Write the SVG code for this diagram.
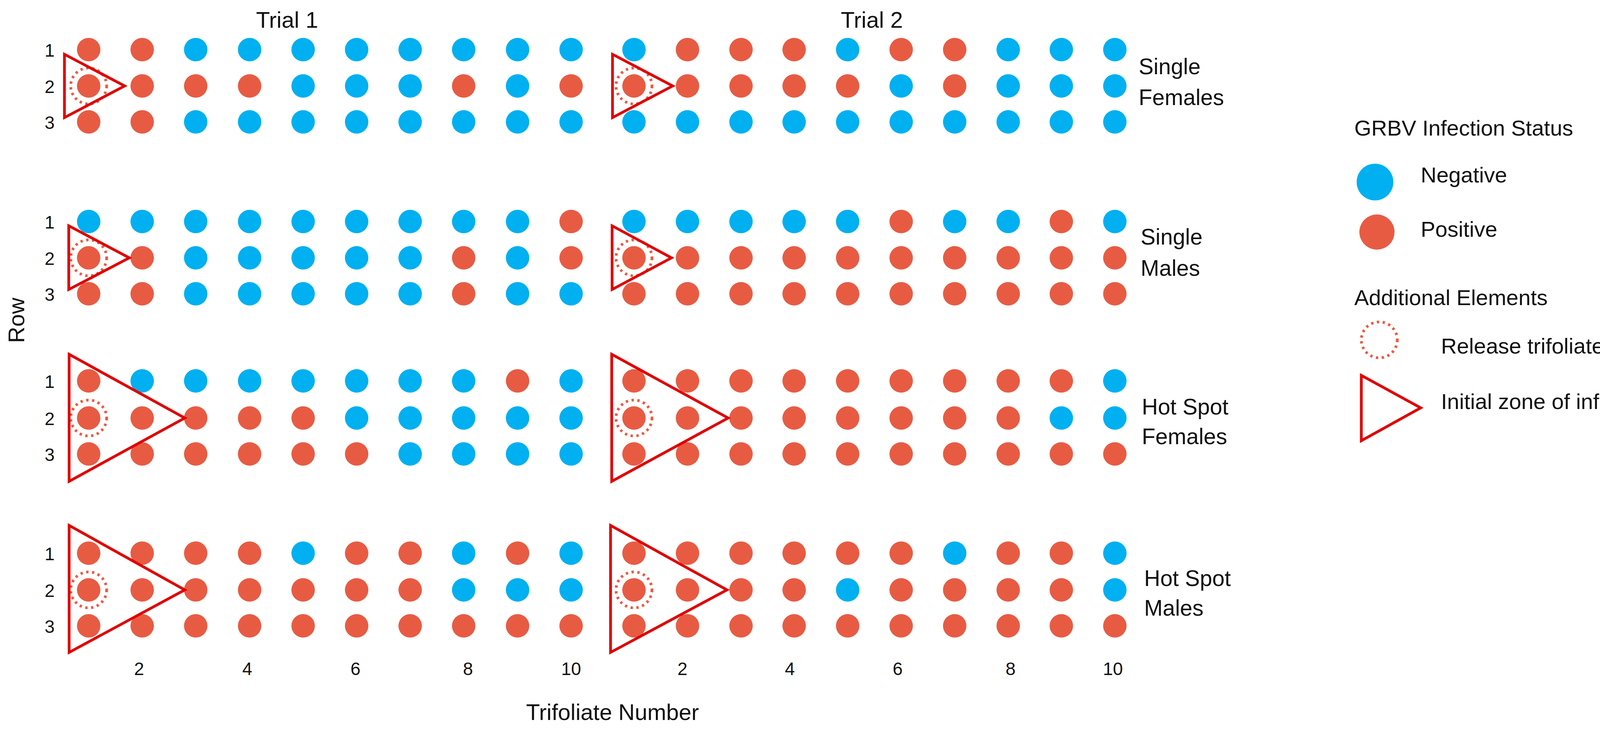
<svg xmlns="http://www.w3.org/2000/svg" width="4319" height="1884" viewBox="0 0 4319 1884">
<style>
text{font-family:"Liberation Sans",Arial,sans-serif;fill:#111}
.n{fill:#00B0F0}.p{fill:#E85B43}
.tri{fill:none;stroke:#E00000;stroke-width:7}
.rel{fill:none;stroke:#E85B43;stroke-width:7;stroke-dasharray:6 9}
.rn{font-size:46px;text-anchor:middle}
.ax{font-size:46px;text-anchor:middle}
.lab{font-size:57px}
.leg{font-size:56px}
</style>
<rect width="4319" height="1884" fill="#fff"/>
<text x="735" y="71" font-size="58" text-anchor="middle">Trial 1</text>
<text x="2232" y="71" font-size="58" text-anchor="middle">Trial 2</text>
<g id="g1">
<g class="rn"><text x="127" y="145">1</text><text x="127" y="238">2</text><text x="127" y="330">3</text></g>
<g class="p"><circle cx="227" cy="127" r="30"/><circle cx="364" cy="127" r="30"/>
<circle cx="227" cy="220" r="30"/><circle cx="364" cy="220" r="30"/><circle cx="501" cy="220" r="30"/><circle cx="639" cy="220" r="30"/><circle cx="1187" cy="220" r="30"/><circle cx="1462" cy="220" r="30"/>
<circle cx="227" cy="312" r="30"/><circle cx="364" cy="312" r="30"/>
<circle cx="1760" cy="127" r="30"/><circle cx="1897" cy="127" r="30"/><circle cx="2033" cy="127" r="30"/><circle cx="2307" cy="127" r="30"/><circle cx="2444" cy="127" r="30"/>
<circle cx="1623" cy="220" r="30"/><circle cx="1760" cy="220" r="30"/><circle cx="1897" cy="220" r="30"/><circle cx="2033" cy="220" r="30"/><circle cx="2170" cy="220" r="30"/><circle cx="2444" cy="220" r="30"/></g>
<g class="n"><circle cx="501" cy="127" r="30"/><circle cx="639" cy="127" r="30"/><circle cx="776" cy="127" r="30"/><circle cx="913" cy="127" r="30"/><circle cx="1050" cy="127" r="30"/><circle cx="1187" cy="127" r="30"/><circle cx="1325" cy="127" r="30"/><circle cx="1462" cy="127" r="30"/>
<circle cx="776" cy="220" r="30"/><circle cx="913" cy="220" r="30"/><circle cx="1050" cy="220" r="30"/><circle cx="1325" cy="220" r="30"/>
<circle cx="501" cy="312" r="30"/><circle cx="639" cy="312" r="30"/><circle cx="776" cy="312" r="30"/><circle cx="913" cy="312" r="30"/><circle cx="1050" cy="312" r="30"/><circle cx="1187" cy="312" r="30"/><circle cx="1325" cy="312" r="30"/><circle cx="1462" cy="312" r="30"/>
<circle cx="1623" cy="127" r="30"/><circle cx="2170" cy="127" r="30"/><circle cx="2581" cy="127" r="30"/><circle cx="2717" cy="127" r="30"/><circle cx="2854" cy="127" r="30"/>
<circle cx="2307" cy="220" r="30"/><circle cx="2581" cy="220" r="30"/><circle cx="2717" cy="220" r="30"/><circle cx="2854" cy="220" r="30"/>
<circle cx="1623" cy="312" r="30"/><circle cx="1760" cy="312" r="30"/><circle cx="1897" cy="312" r="30"/><circle cx="2033" cy="312" r="30"/><circle cx="2170" cy="312" r="30"/><circle cx="2307" cy="312" r="30"/><circle cx="2444" cy="312" r="30"/><circle cx="2581" cy="312" r="30"/><circle cx="2717" cy="312" r="30"/><circle cx="2854" cy="312" r="30"/></g>
<circle class="rel" cx="227" cy="220" r="46"/><circle class="rel" cx="1623" cy="220" r="46"/>
<polygon class="tri" points="165,139 165,301 319,220"/><polygon class="tri" points="1568,139 1568,301 1722,220"/>
<text class="lab" x="2915" y="190">Single</text><text class="lab" x="2915" y="269">Females</text>
</g>
<g id="g2">
<g class="rn"><text x="127" y="585">1</text><text x="127" y="678">2</text><text x="127" y="770">3</text></g>
<g class="p"><circle cx="1462" cy="567" r="30"/>
<circle cx="227" cy="660" r="30"/><circle cx="364" cy="660" r="30"/><circle cx="1187" cy="660" r="30"/><circle cx="1462" cy="660" r="30"/>
<circle cx="227" cy="752" r="30"/><circle cx="364" cy="752" r="30"/><circle cx="1187" cy="752" r="30"/>
<circle cx="2307" cy="567" r="30"/><circle cx="2717" cy="567" r="30"/>
<circle cx="1623" cy="660" r="30"/><circle cx="1760" cy="660" r="30"/><circle cx="1897" cy="660" r="30"/><circle cx="2033" cy="660" r="30"/><circle cx="2170" cy="660" r="30"/><circle cx="2307" cy="660" r="30"/><circle cx="2444" cy="660" r="30"/><circle cx="2581" cy="660" r="30"/><circle cx="2717" cy="660" r="30"/><circle cx="2854" cy="660" r="30"/>
<circle cx="1623" cy="752" r="30"/><circle cx="1760" cy="752" r="30"/><circle cx="1897" cy="752" r="30"/><circle cx="2033" cy="752" r="30"/><circle cx="2170" cy="752" r="30"/><circle cx="2307" cy="752" r="30"/><circle cx="2444" cy="752" r="30"/><circle cx="2581" cy="752" r="30"/><circle cx="2717" cy="752" r="30"/><circle cx="2854" cy="752" r="30"/></g>
<g class="n"><circle cx="227" cy="567" r="30"/><circle cx="364" cy="567" r="30"/><circle cx="501" cy="567" r="30"/><circle cx="639" cy="567" r="30"/><circle cx="776" cy="567" r="30"/><circle cx="913" cy="567" r="30"/><circle cx="1050" cy="567" r="30"/><circle cx="1187" cy="567" r="30"/><circle cx="1325" cy="567" r="30"/>
<circle cx="501" cy="660" r="30"/><circle cx="639" cy="660" r="30"/><circle cx="776" cy="660" r="30"/><circle cx="913" cy="660" r="30"/><circle cx="1050" cy="660" r="30"/><circle cx="1325" cy="660" r="30"/>
<circle cx="501" cy="752" r="30"/><circle cx="639" cy="752" r="30"/><circle cx="776" cy="752" r="30"/><circle cx="913" cy="752" r="30"/><circle cx="1050" cy="752" r="30"/><circle cx="1325" cy="752" r="30"/><circle cx="1462" cy="752" r="30"/>
<circle cx="1623" cy="567" r="30"/><circle cx="1760" cy="567" r="30"/><circle cx="1897" cy="567" r="30"/><circle cx="2033" cy="567" r="30"/><circle cx="2170" cy="567" r="30"/><circle cx="2444" cy="567" r="30"/><circle cx="2581" cy="567" r="30"/><circle cx="2854" cy="567" r="30"/></g>
<circle class="rel" cx="227" cy="660" r="46"/><circle class="rel" cx="1623" cy="660" r="46"/>
<polygon class="tri" points="176,578 176,741 331,660"/><polygon class="tri" points="1567,578 1567,741 1719,660"/>
<text class="lab" x="2920" y="626">Single</text><text class="lab" x="2920" y="706">Males</text>
</g>
<g id="g3">
<g class="rn"><text x="127" y="993">1</text><text x="127" y="1088">2</text><text x="127" y="1180">3</text></g>
<g class="p"><circle cx="227" cy="975" r="30"/><circle cx="1325" cy="975" r="30"/>
<circle cx="227" cy="1070" r="30"/><circle cx="364" cy="1070" r="30"/><circle cx="501" cy="1070" r="30"/><circle cx="639" cy="1070" r="30"/><circle cx="776" cy="1070" r="30"/>
<circle cx="227" cy="1162" r="30"/><circle cx="364" cy="1162" r="30"/><circle cx="501" cy="1162" r="30"/><circle cx="639" cy="1162" r="30"/><circle cx="776" cy="1162" r="30"/><circle cx="913" cy="1162" r="30"/>
<circle cx="1623" cy="975" r="30"/><circle cx="1760" cy="975" r="30"/><circle cx="1897" cy="975" r="30"/><circle cx="2033" cy="975" r="30"/><circle cx="2170" cy="975" r="30"/><circle cx="2307" cy="975" r="30"/><circle cx="2444" cy="975" r="30"/><circle cx="2581" cy="975" r="30"/><circle cx="2717" cy="975" r="30"/>
<circle cx="1623" cy="1070" r="30"/><circle cx="1760" cy="1070" r="30"/><circle cx="1897" cy="1070" r="30"/><circle cx="2033" cy="1070" r="30"/><circle cx="2170" cy="1070" r="30"/><circle cx="2307" cy="1070" r="30"/><circle cx="2444" cy="1070" r="30"/><circle cx="2581" cy="1070" r="30"/>
<circle cx="1623" cy="1162" r="30"/><circle cx="1760" cy="1162" r="30"/><circle cx="1897" cy="1162" r="30"/><circle cx="2033" cy="1162" r="30"/><circle cx="2170" cy="1162" r="30"/><circle cx="2307" cy="1162" r="30"/><circle cx="2444" cy="1162" r="30"/><circle cx="2581" cy="1162" r="30"/><circle cx="2717" cy="1162" r="30"/><circle cx="2854" cy="1162" r="30"/></g>
<g class="n"><circle cx="364" cy="975" r="30"/><circle cx="501" cy="975" r="30"/><circle cx="639" cy="975" r="30"/><circle cx="776" cy="975" r="30"/><circle cx="913" cy="975" r="30"/><circle cx="1050" cy="975" r="30"/><circle cx="1187" cy="975" r="30"/><circle cx="1462" cy="975" r="30"/>
<circle cx="913" cy="1070" r="30"/><circle cx="1050" cy="1070" r="30"/><circle cx="1187" cy="1070" r="30"/><circle cx="1325" cy="1070" r="30"/><circle cx="1462" cy="1070" r="30"/>
<circle cx="1050" cy="1162" r="30"/><circle cx="1187" cy="1162" r="30"/><circle cx="1325" cy="1162" r="30"/><circle cx="1462" cy="1162" r="30"/>
<circle cx="2854" cy="975" r="30"/><circle cx="2717" cy="1070" r="30"/><circle cx="2854" cy="1070" r="30"/></g>
<circle class="rel" cx="227" cy="1070" r="46"/><circle class="rel" cx="1623" cy="1070" r="46"/>
<polygon class="tri" points="177,907 177,1232 473,1070"/><polygon class="tri" points="1566,907 1566,1232 1864,1070"/>
<text class="lab" x="2923" y="1061">Hot Spot</text><text class="lab" x="2923" y="1137">Females</text>
</g>
<g id="g4">
<g class="rn"><text x="127" y="1434">1</text><text x="127" y="1528">2</text><text x="127" y="1620">3</text></g>
<g class="p"><circle cx="227" cy="1416" r="30"/><circle cx="364" cy="1416" r="30"/><circle cx="501" cy="1416" r="30"/><circle cx="639" cy="1416" r="30"/><circle cx="913" cy="1416" r="30"/><circle cx="1050" cy="1416" r="30"/><circle cx="1325" cy="1416" r="30"/>
<circle cx="227" cy="1510" r="30"/><circle cx="364" cy="1510" r="30"/><circle cx="501" cy="1510" r="30"/><circle cx="639" cy="1510" r="30"/><circle cx="776" cy="1510" r="30"/><circle cx="913" cy="1510" r="30"/><circle cx="1050" cy="1510" r="30"/>
<circle cx="227" cy="1602" r="30"/><circle cx="364" cy="1602" r="30"/><circle cx="501" cy="1602" r="30"/><circle cx="639" cy="1602" r="30"/><circle cx="776" cy="1602" r="30"/><circle cx="913" cy="1602" r="30"/><circle cx="1050" cy="1602" r="30"/><circle cx="1187" cy="1602" r="30"/><circle cx="1325" cy="1602" r="30"/><circle cx="1462" cy="1602" r="30"/>
<circle cx="1623" cy="1416" r="30"/><circle cx="1760" cy="1416" r="30"/><circle cx="1897" cy="1416" r="30"/><circle cx="2033" cy="1416" r="30"/><circle cx="2170" cy="1416" r="30"/><circle cx="2307" cy="1416" r="30"/><circle cx="2581" cy="1416" r="30"/><circle cx="2717" cy="1416" r="30"/>
<circle cx="1623" cy="1510" r="30"/><circle cx="1760" cy="1510" r="30"/><circle cx="1897" cy="1510" r="30"/><circle cx="2033" cy="1510" r="30"/><circle cx="2307" cy="1510" r="30"/><circle cx="2444" cy="1510" r="30"/><circle cx="2581" cy="1510" r="30"/><circle cx="2717" cy="1510" r="30"/>
<circle cx="1623" cy="1602" r="30"/><circle cx="1760" cy="1602" r="30"/><circle cx="1897" cy="1602" r="30"/><circle cx="2033" cy="1602" r="30"/><circle cx="2170" cy="1602" r="30"/><circle cx="2307" cy="1602" r="30"/><circle cx="2444" cy="1602" r="30"/><circle cx="2581" cy="1602" r="30"/><circle cx="2717" cy="1602" r="30"/><circle cx="2854" cy="1602" r="30"/></g>
<g class="n"><circle cx="776" cy="1416" r="30"/><circle cx="1187" cy="1416" r="30"/><circle cx="1462" cy="1416" r="30"/>
<circle cx="1187" cy="1510" r="30"/><circle cx="1325" cy="1510" r="30"/><circle cx="1462" cy="1510" r="30"/>
<circle cx="2444" cy="1416" r="30"/><circle cx="2854" cy="1416" r="30"/><circle cx="2170" cy="1510" r="30"/><circle cx="2854" cy="1510" r="30"/></g>
<circle class="rel" cx="227" cy="1510" r="46"/><circle class="rel" cx="1623" cy="1510" r="46"/>
<polygon class="tri" points="177,1345 177,1670 473,1510"/><polygon class="tri" points="1563,1345 1563,1670 1861,1510"/>
<text class="lab" x="2929" y="1500">Hot Spot</text><text class="lab" x="2929" y="1576">Males</text>
</g>
<g id="axes">
<g class="ax"><text x="356" y="1728">2</text><text x="633" y="1728">4</text><text x="910" y="1728">6</text><text x="1198" y="1728">8</text><text x="1462" y="1728">10</text>
<text x="1747" y="1728">2</text><text x="2022" y="1728">4</text><text x="2298" y="1728">6</text><text x="2587" y="1728">8</text><text x="2849" y="1728">10</text></g>
<text x="1568" y="1843" font-size="58" text-anchor="middle">Trifoliate Number</text>
<text transform="translate(62,820) rotate(-90)" font-size="58" text-anchor="middle">Row</text>
</g>
<g id="legend">
<text class="leg" x="3467" y="347">GRBV Infection Status</text>
<circle class="n" cx="3520" cy="466" r="47"/><text class="leg" x="3637" y="467">Negative</text>
<circle class="p" cx="3525" cy="594" r="45"/><text class="leg" x="3637" y="606">Positive</text>
<text class="leg" x="3467" y="781">Additional Elements</text>
<circle class="rel" cx="3531" cy="870" r="46"/><text class="leg" x="3689" y="905">Release trifoliate</text>
<polygon class="tri" points="3485,961 3485,1128 3637,1044"/><text class="leg" x="3689" y="1047">Initial zone of infections</text>
</g>
</svg>
